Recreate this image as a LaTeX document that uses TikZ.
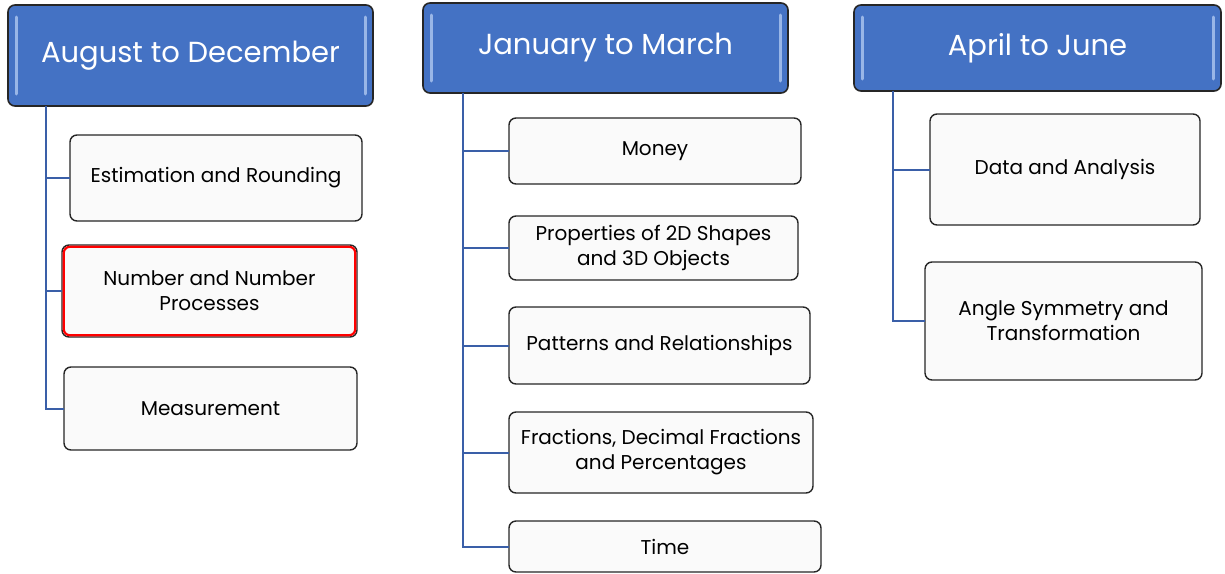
\documentclass[tikz,border=0pt]{standalone}
\usepackage{fontspec}
\setmainfont{Poppins}
\definecolor{hdrblue}{HTML}{4472C4}
\definecolor{hdrlight}{HTML}{A8C2EE}
\definecolor{connblue}{HTML}{3A5FA8}
\definecolor{boxfill}{HTML}{FAFAFA}
\tikzset{
  hdr/.style={draw=black!85, line width=1.6pt, fill=hdrblue, rounded corners=7pt,
    anchor=north west, inner sep=0pt, outer sep=0pt, text=white,
    font=\fontsize{29}{34}\selectfont},
  child/.style={draw=black!85, line width=1.4pt, fill=boxfill, rounded corners=7pt,
    anchor=north west, inner sep=0pt, outer sep=0pt, align=center,
    font=\fontsize{20}{25}\selectfont},
  conn/.style={draw=connblue, line width=2pt},
  gloss/.style={draw=hdrlight, line width=3pt, line cap=round, opacity=0.85}
}
\begin{document}
\begin{tikzpicture}[x=1pt,y=-1pt]
\useasboundingbox (0,0) rectangle (1225,573);
% headers
\node[hdr, minimum width=365pt, minimum height=101pt] (h1) at (8,5) {August to December};
\node[hdr, minimum width=365pt, minimum height=90pt] (h2) at (423,3) {January to March};
\node[hdr, minimum width=367pt, minimum height=86pt] (h3) at (854,5) {April to June};
% gloss strips
\foreach \h in {h1,h2,h3}{
  \draw[gloss] ([xshift=8pt,yshift=-12pt]\h.north west) -- ([xshift=8pt,yshift=12pt]\h.south west);
  \draw[gloss] ([xshift=-8pt,yshift=-12pt]\h.north east) -- ([xshift=-8pt,yshift=12pt]\h.south east);
}
% column 1
\node[child, minimum width=292pt, minimum height=86pt] (e1) at (70,135) {Estimation and Rounding};
\node[child, minimum width=295pt, minimum height=92pt] (e2) at (62,245) {Number and Number\\Processes};
\draw[red, line width=2.2pt, rounded corners=6pt] ([shift={(1.8pt,-1.8pt)}]e2.north west) rectangle ([shift={(-1.8pt,1.8pt)}]e2.south east);
\node[child, minimum width=293pt, minimum height=83pt] (e3) at (64,367) {Measurement};
% column 2
\node[child, minimum width=292pt, minimum height=66pt] (f1) at (509,118) {Money};
\node[child, minimum width=289pt, minimum height=64pt] (f2) at (509,216) {Properties of 2D Shapes\\and 3D Objects};
\node[child, minimum width=301pt, minimum height=77pt] (f3) at (509,307) {Patterns and Relationships};
\node[child, minimum width=304pt, minimum height=81pt] (f4) at (509,412) {Fractions, Decimal Fractions\\and Percentages};
\node[child, minimum width=312pt, minimum height=51pt] (f5) at (509,521) {Time};
% column 3
\node[child, minimum width=270pt, minimum height=111pt] (g1) at (930,114) {Data and Analysis};
\node[child, minimum width=277pt, minimum height=118pt] (g2) at (925,262) {Angle Symmetry and\\Transformation};
% connectors
\coordinate (t1) at (46,106);
\coordinate (t2) at (463,93);
\coordinate (t3) at (893,91);
\draw[conn] (t1) |- (e3.west);
\draw[conn] (t1 |- e1.west) -- (e1.west);
\draw[conn] (t1 |- e2.west) -- (e2.west);
\draw[conn] (t2) |- (f5.west);
\foreach \n in {f1,f2,f3,f4}{\draw[conn] (t2 |- \n.west) -- (\n.west);}
\draw[conn] (t3) |- (g2.west);
\draw[conn] (t3 |- g1.west) -- (g1.west);
\end{tikzpicture}
\end{document}
